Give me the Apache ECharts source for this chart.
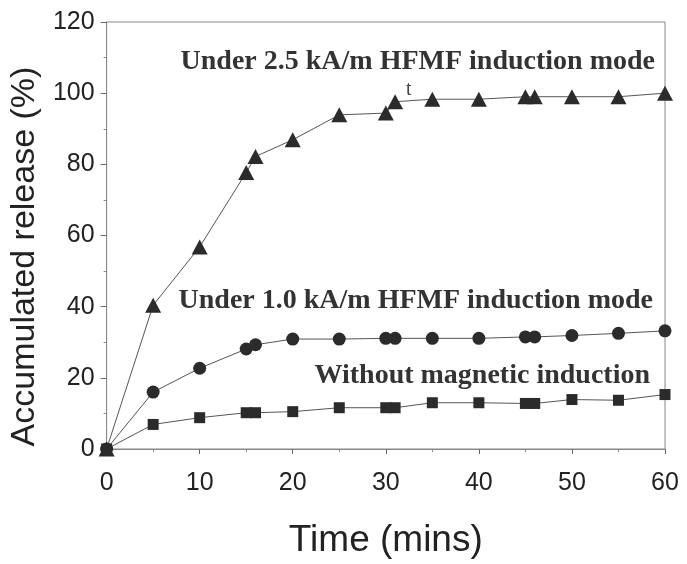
<!DOCTYPE html>
<html>
<head>
<meta charset="utf-8">
<script src="https://cdn.jsdelivr.net/npm/echarts@6/dist/echarts.min.js"></script>
<style>html,body{margin:0;padding:0;background:#fff}#c{width:687px;height:564px}</style>
</head>
<body>
<div id="c"></div>
<script>
const times = [0, 5, 10, 15, 16, 20, 25, 30, 31, 35, 40, 45, 46, 50, 55, 60];
const hf25 = [0, 40.4, 56.8, 77.7, 82.2, 86.9, 93.9, 94.4, 97.6, 98.3, 98.3, 99.0, 99.0, 99.0, 99.0, 100.0];
const hf10 = [0, 16.0, 22.7, 28.1, 29.3, 30.9, 30.9, 31.1, 31.1, 31.1, 31.1, 31.5, 31.5, 31.9, 32.5, 33.2];
const noMag = [0, 6.9, 8.8, 10.2, 10.2, 10.5, 11.6, 11.6, 11.6, 13.0, 13.0, 12.8, 12.8, 13.9, 13.7, 15.3];
const seriesNames = ['Under 2.5 kA/m HFMF induction mode', 'Under 1.0 kA/m HFMF induction mode', 'Without magnetic induction'];
const xTicks = [0, 10, 20, 30, 40, 50, 60];
const yTicks = [0, 20, 40, 60, 80, 100, 120];

const chart = echarts.init(document.getElementById('c'));
const pair = arr => times.map((t, i) => [t, arr[i]]);
const markerColor = '#2b2b2b';
const lineColor = '#555';
function mk(name, data, symbol, size) {
  return {
    name, type: 'line', data: pair(data), symbol, symbolSize: size,
    showAllSymbol: true, animation: false,
    itemStyle: { color: markerColor },
    lineStyle: { color: lineColor, width: 1 },
    z: 3
  };
}
const annFont = 'bold 28px "Liberation Serif", "Times New Roman", serif';
chart.setOption({
  animation: false,
  backgroundColor: '#fff',
  grid: { left: 105, right: 22, top: 22, bottom: 112, show: true, borderColor: '#888', borderWidth: 1 },
  xAxis: {
    type: 'value', min: xTicks[0], max: xTicks[xTicks.length - 1], interval: 10,
    name: 'Time (mins)', nameLocation: 'middle', nameGap: 73,
    nameTextStyle: { fontFamily: '"Liberation Sans", Arial, sans-serif', fontSize: 37, color: '#222' },
    axisLine: { lineStyle: { color: '#888', width: 1 } },
    axisTick: { show: true, length: 5, lineStyle: { color: '#666' } },
    minorTick: { show: true, splitNumber: 2, length: 3, lineStyle: { color: '#888' } },
    splitLine: { show: false },
    axisLabel: { fontFamily: '"Liberation Sans", Arial, sans-serif', fontSize: 25, color: '#222', margin: 22 }
  },
  yAxis: {
    type: 'value', min: yTicks[0], max: yTicks[yTicks.length - 1], interval: 20,
    name: 'Accumulated release (%)', nameLocation: 'middle', nameGap: 60, nameRotate: 90,
    nameTextStyle: { fontFamily: '"Liberation Sans", Arial, sans-serif', fontSize: 34, color: '#222', padding: [0, 42, 0, 0] },
    axisLine: { lineStyle: { color: '#888', width: 1 } },
    axisTick: { show: true, length: 6, lineStyle: { color: '#666' } },
    minorTick: { show: true, splitNumber: 2, length: 3, lineStyle: { color: '#888' } },
    splitLine: { show: false },
    axisLabel: { fontFamily: '"Liberation Sans", Arial, sans-serif', fontSize: 25, color: '#222', margin: 12 }
  },
  series: [
    mk(seriesNames[0], hf25, 'triangle', [16, 15]),
    mk(seriesNames[1], hf10, 'circle', 13),
    mk(seriesNames[2], noMag, 'rect', [11, 11])
  ],
  graphic: [
    { type: 'text', right: 32, top: 48, style: { text: seriesNames[0], font: annFont, fill: '#333' } },
    { type: 'text', right: 34, top: 287, style: { text: seriesNames[1], font: annFont, fill: '#333' } },
    { type: 'text', right: 37, top: 362, style: { text: seriesNames[2], font: annFont, fill: '#333' } },
    { type: 'text', left: 406, top: 80, style: { text: 't', font: '20px "Liberation Serif", serif', fill: '#444' } }
  ]
});
</script>
</body>
</html>
